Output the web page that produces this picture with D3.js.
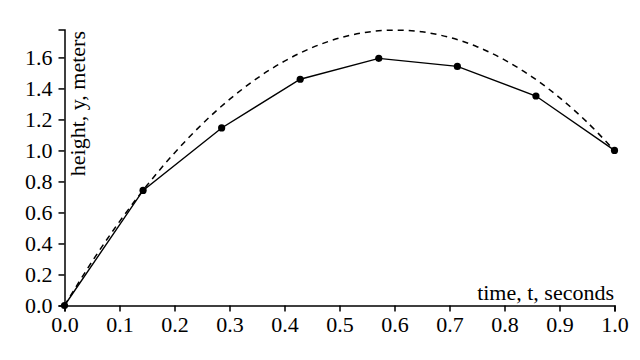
<!DOCTYPE html>
<html><head><meta charset="utf-8">
<script src="https://cdn.jsdelivr.net/npm/d3@7"></script>
<style>
body{margin:0;background:#fff;}
svg text{font-family:"Liberation Serif","Times New Roman",serif;}
</style></head>
<body><svg id="c" width="640" height="360"></svg>
<script>
// Euler-step points (solid line with markers)
const stepTimes = [0, 1/7, 2/7, 3/7, 4/7, 5/7, 6/7, 1.0];
const stepHeights = [0, 0.742, 1.145, 1.459, 1.594, 1.542, 1.351, 1.0];
// exact trajectory (dashed)
const curveTimes = [0,0.05,0.1,0.15,0.2,0.25,0.3,0.35,0.4,0.45,0.5,0.55,0.6,0.65,0.7,0.75,0.8,0.85,0.9,0.95,1.0];
const curveHeights = [0,0.283,0.541,0.775,0.984,1.169,1.329,1.465,1.576,1.663,1.725,1.763,1.776,1.765,1.729,1.669,1.584,1.475,1.341,1.183,1.0];
const xTicks = [0,0.1,0.2,0.3,0.4,0.5,0.6,0.7,0.8,0.9,1.0];
const yTicks = [0,0.2,0.4,0.6,0.8,1.0,1.2,1.4,1.6];
const xLabel = "time, t, seconds";
const yLabel = "height, y, meters";
const yMax = 1.78;

const svg = d3.select("#c");
const x = d3.scaleLinear().domain([0,1]).range([64.5,614.5]);
const y = d3.scaleLinear().domain([0,yMax]).range([305.5,29.5]);

const fontSize = 22;
const xAxis = svg.append("g").attr("transform","translate(0,305.5)")
  .call(d3.axisBottom(x).tickValues(xTicks).tickFormat(d3.format(".1f")).tickSize(6).tickSizeOuter(6).tickPadding(6));
const yAxis = svg.append("g").attr("transform","translate(64.5,0)")
  .call(d3.axisLeft(y).tickValues(yTicks).tickFormat(d3.format(".1f")).tickSize(6).tickSizeOuter(6).tickPadding(6));
[xAxis,yAxis].forEach(a=>{
  a.selectAll("path,line").attr("stroke","#000").attr("stroke-width",1.5);
  a.selectAll("text").attr("font-size",fontSize).attr("fill","#000").attr("font-family","Liberation Serif");
});
xAxis.selectAll("text").attr("dy","0.68em");
yAxis.selectAll("text").attr("dy","0.34em");

svg.append("path")
  .datum(curveTimes.map((t,i)=>[t,curveHeights[i]]))
  .attr("fill","none").attr("stroke","#000").attr("stroke-width",1.5)
  .attr("stroke-dasharray","6,5")
  .attr("d", d3.line().x(d=>x(d[0])).y(d=>y(d[1])).curve(d3.curveCatmullRom));

const pts = stepTimes.map((t,i)=>[t,stepHeights[i]]);
svg.append("path").datum(pts)
  .attr("fill","none").attr("stroke","#000").attr("stroke-width",1.4)
  .attr("d", d3.line().x(d=>x(d[0])).y(d=>y(d[1])));
svg.selectAll("circle.pt").data(pts).enter().append("circle")
  .attr("cx",d=>x(d[0])).attr("cy",d=>y(d[1])).attr("r",3.6).attr("fill","#000");

svg.append("text").attr("x",614).attr("y",300).attr("text-anchor","end")
  .attr("font-size",fontSize).text(xLabel);
svg.append("text").attr("transform","translate(85,31) rotate(-90)").attr("text-anchor","end")
  .attr("font-size",fontSize).text(yLabel);
</script></body></html>
